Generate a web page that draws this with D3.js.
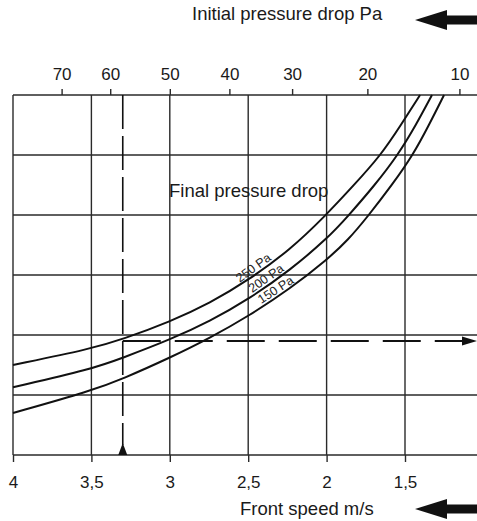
<!DOCTYPE html>
<html><head><meta charset="utf-8">
<script src="https://cdn.jsdelivr.net/npm/d3@7"></script>
<style>body{margin:0;background:#fff}svg{display:block}</style>
</head><body>
<svg id="c" width="477" height="521"></svg>
<script>
// ---- data ----
const speedTicks = [4, 3.5, 3, 2.5, 2, 1.5];
const speedLabels = ["4", "3,5", "3", "2,5", "2", "1,5"];
const gridRows = [0, 1, 2, 3, 4, 5, 6];
const pressureLabels = [70, 60, 50, 40, 30, 20, 10];
const pressureAtSpeed = [3.69, 3.38, 3.0, 2.62, 2.22, 1.74, 1.153];
const curveNames = ["250 Pa", "200 Pa", "150 Pa"];
const speeds250 = [4.0, 3.5, 3.3, 3.0, 2.744, 2.495, 2.233, 2.010, 1.825, 1.653, 1.526, 1.404];
const values250 = [1.50, 1.77, 1.93, 2.22, 2.53, 2.92, 3.42, 3.98, 4.50, 5.00, 5.50, 6.0];
const speeds200 = [4.0, 3.5, 3.3, 3.0, 2.744, 2.495, 2.233, 1.991, 1.864, 1.698, 1.545, 1.430, 1.328];
const values200 = [1.13, 1.43, 1.62, 1.92, 2.23, 2.60, 3.08, 3.62, 3.98, 4.48, 5.00, 5.50, 6.0];
const speeds150 = [4.0, 3.5, 3.3, 3.0, 2.744, 2.495, 2.233, 1.991, 1.864, 1.736, 1.583, 1.449, 1.347, 1.251];
const values150 = [0.70, 1.07, 1.27, 1.62, 1.95, 2.32, 2.77, 3.27, 3.58, 3.98, 4.50, 5.00, 5.50, 6.0];
const labelSpeeds = [2.44, 2.36, 2.30];
const markerSpeed = 3.3;
const markerValue = 1.9;
const titleTop = "Initial pressure drop Pa";
const titleBottom = "Front speed m/s";
const titleInner = "Final pressure drop";

// ---- scales ----
const svg = d3.select("#c");
const font = "'Liberation Sans', Arial, Helvetica, sans-serif";
const x = d3.scaleLinear().domain([4, 1]).range([13, 483.4]);
const y = d3.scaleLinear().domain([0, 6]).range([455, 95]);
const ink = "#2a2a2a";

// grid
svg.append("g").selectAll("line").data(gridRows).join("line")
  .attr("x1", x(4)).attr("x2", 477)
  .attr("y1", d => y(d)).attr("y2", d => y(d))
  .attr("stroke", ink).attr("stroke-width", 1.4);
svg.append("g").selectAll("line").data(speedTicks).join("line")
  .attr("x1", d => x(d)).attr("x2", d => x(d))
  .attr("y1", y(6)).attr("y2", y(0))
  .attr("stroke", ink).attr("stroke-width", 1.4);

// bottom axis
const gb = svg.append("g").attr("transform", `translate(0,${y(0)})`)
  .call(d3.axisBottom(x).tickValues(speedTicks).tickSize(7).tickPadding(14)
    .tickFormat((d, i) => speedLabels[i]));
gb.select(".domain").remove();
gb.selectAll(".tick line").attr("stroke", ink).attr("stroke-width", 1.4);
gb.selectAll(".tick text").attr("font-family", font).attr("font-size", 17).attr("fill", "#1a1a1a");

// top axis (initial pressure drop)
const gt = svg.append("g").attr("transform", `translate(0,${y(6)})`)
  .call(d3.axisTop(x).tickValues(pressureAtSpeed).tickSize(6).tickPadding(9)
    .tickFormat((d, i) => pressureLabels[i]));
gt.select(".domain").remove();
gt.selectAll(".tick line").attr("stroke", ink).attr("stroke-width", 1.4);
gt.selectAll(".tick text").attr("font-family", font).attr("font-size", 17).attr("fill", "#1a1a1a");

// marker dashed lines
svg.append("line")
  .attr("x1", x(markerSpeed)).attr("x2", x(markerSpeed))
  .attr("y1", y(6)).attr("y2", y(0) - 10)
  .attr("stroke", "#111").attr("stroke-width", 1.6).attr("stroke-dasharray", "34,7");
svg.append("path")
  .attr("d", `M${x(markerSpeed)},${y(0) - 12} L${x(markerSpeed) - 4.5},${y(0)} L${x(markerSpeed) + 4.5},${y(0)} Z`)
  .attr("fill", "#111");
svg.append("line")
  .attr("x1", x(markerSpeed)).attr("x2", 464)
  .attr("y1", y(markerValue)).attr("y2", y(markerValue))
  .attr("stroke", "#111").attr("stroke-width", 1.8).attr("stroke-dasharray", "38,14");
svg.append("path")
  .attr("d", `M477,${y(markerValue)} L462,${y(markerValue) - 4.5} L462,${y(markerValue) + 4.5} Z`)
  .attr("fill", "#111");

// curves
const series = [
  {name: curveNames[0], s: speeds250, v: values250},
  {name: curveNames[1], s: speeds200, v: values200},
  {name: curveNames[2], s: speeds150, v: values150}
];
const line = d3.line().x(d => x(d[0])).y(d => y(d[1])).curve(d3.curveBasis);
svg.append("g").selectAll("path").data(series).join("path")
  .attr("d", d => line(d.s.map((s, i) => [s, d.v[i]])))
  .attr("fill", "none").attr("stroke", "#111").attr("stroke-width", 2);

// curve labels
series.forEach((d, i) => {
  const f = d3.scaleLinear().domain(d.s).range(d.v);
  const s = labelSpeeds[i];
  const px = x(s), py = y(f(s));
  const p2x = x(s - 0.05), p2y = y(f(s - 0.05));
  const ang = Math.atan2(p2y - py, p2x - px) * 180 / Math.PI;
  svg.append("text")
    .attr("transform", `translate(${px},${py}) rotate(${ang})`)
    .attr("dy", -3).attr("text-anchor", "middle")
    .attr("font-family", font).attr("font-size", 12.5).attr("fill", "#222")
    .text(d.name);
});

// titles
svg.append("text").attr("x", 192).attr("y", 20).attr("font-family", font)
  .attr("font-size", 18.5).attr("fill", "#1a1a1a").text(titleTop);
svg.append("text").attr("x", 240).attr("y", 515).attr("font-family", font)
  .attr("font-size", 18.5).attr("fill", "#1a1a1a").text(titleBottom);
svg.append("text").attr("x", 169).attr("y", 197).attr("font-family", font)
  .attr("font-size", 18.5).attr("fill", "#1a1a1a").text(titleInner);

// direction arrows
function arrow(cy) {
  svg.append("path")
    .attr("d", `M415,${cy} L447,${cy - 10} L447,${cy - 4.5} L477,${cy - 4.5} L477,${cy + 4.5} L447,${cy + 4.5} L447,${cy + 10} Z`)
    .attr("fill", "#111");
}
arrow(20);
arrow(509);
</script>
</body></html>
